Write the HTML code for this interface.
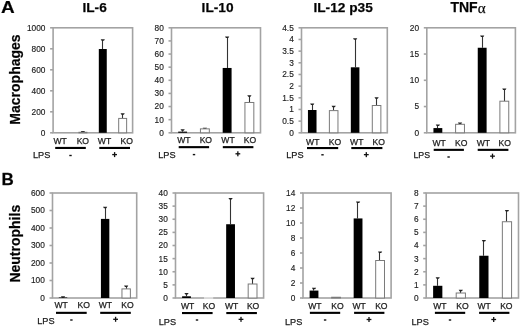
<!DOCTYPE html>
<html><head><meta charset="utf-8"><style>
html,body{margin:0;padding:0;background:#fff;width:520px;height:326px;overflow:hidden}
svg{display:block;font-family:"Liberation Sans", sans-serif;will-change:transform}
text{stroke:#222;stroke-width:0.25px;stroke-linejoin:round}
</style></head><body>
<svg width="520" height="326" viewBox="0 0 520 326">
<rect width="520" height="326" fill="#fff"/>
<rect x="53.10" y="27.80" width="79.50" height="105.00" fill="none" stroke="#a3a3a3" stroke-width="1.6"/>
<line x1="50.10" y1="132.80" x2="53.10" y2="132.80" stroke="#a3a3a3" stroke-width="1.6"/>
<text x="45.40" y="135.70" text-anchor="end" font-size="8.3" fill="#1a1a1a" style="stroke-width:0.15px">0</text>
<line x1="50.10" y1="111.80" x2="53.10" y2="111.80" stroke="#a3a3a3" stroke-width="1.6"/>
<text x="45.40" y="114.70" text-anchor="end" font-size="8.3" fill="#1a1a1a" style="stroke-width:0.15px">200</text>
<line x1="50.10" y1="90.80" x2="53.10" y2="90.80" stroke="#a3a3a3" stroke-width="1.6"/>
<text x="45.40" y="93.70" text-anchor="end" font-size="8.3" fill="#1a1a1a" style="stroke-width:0.15px">400</text>
<line x1="50.10" y1="69.80" x2="53.10" y2="69.80" stroke="#a3a3a3" stroke-width="1.6"/>
<text x="45.40" y="72.70" text-anchor="end" font-size="8.3" fill="#1a1a1a" style="stroke-width:0.15px">600</text>
<line x1="50.10" y1="48.80" x2="53.10" y2="48.80" stroke="#a3a3a3" stroke-width="1.6"/>
<text x="45.40" y="51.70" text-anchor="end" font-size="8.3" fill="#1a1a1a" style="stroke-width:0.15px">800</text>
<line x1="50.10" y1="27.80" x2="53.10" y2="27.80" stroke="#a3a3a3" stroke-width="1.6"/>
<text x="45.40" y="30.70" text-anchor="end" font-size="8.3" fill="#1a1a1a" style="stroke-width:0.15px">1000</text>
<rect x="59.06" y="132.80" width="7.95" height="0.00" fill="#000"/>
<line x1="82.50" y1="131.75" x2="82.50" y2="132.28" stroke="#333" stroke-width="1.1"/>
<path d="M80.81 131.05H85.01L84.11 132.55H81.71Z" fill="#222"/>
<rect x="78.94" y="132.28" width="7.95" height="0.53" fill="#fff" stroke="#7a7a7a" stroke-width="1"/>
<line x1="102.50" y1="39.98" x2="102.50" y2="49.01" stroke="#333" stroke-width="1.1"/>
<path d="M100.69 39.28H104.89L103.99 40.78H101.59Z" fill="#222"/>
<rect x="98.81" y="49.01" width="7.95" height="83.79" fill="#000"/>
<line x1="122.50" y1="114.01" x2="122.50" y2="118.42" stroke="#333" stroke-width="1.1"/>
<path d="M120.56 113.31H124.76L123.86 114.81H121.46Z" fill="#222"/>
<rect x="118.69" y="118.42" width="7.95" height="14.39" fill="#fff" stroke="#7a7a7a" stroke-width="1"/>
<rect x="171.50" y="27.80" width="89.00" height="105.00" fill="none" stroke="#a3a3a3" stroke-width="1.6"/>
<line x1="168.50" y1="132.80" x2="171.50" y2="132.80" stroke="#a3a3a3" stroke-width="1.6"/>
<text x="163.80" y="135.70" text-anchor="end" font-size="8.3" fill="#1a1a1a" style="stroke-width:0.15px">0</text>
<line x1="168.50" y1="119.68" x2="171.50" y2="119.68" stroke="#a3a3a3" stroke-width="1.6"/>
<text x="163.80" y="122.58" text-anchor="end" font-size="8.3" fill="#1a1a1a" style="stroke-width:0.15px">10</text>
<line x1="168.50" y1="106.55" x2="171.50" y2="106.55" stroke="#a3a3a3" stroke-width="1.6"/>
<text x="163.80" y="109.45" text-anchor="end" font-size="8.3" fill="#1a1a1a" style="stroke-width:0.15px">20</text>
<line x1="168.50" y1="93.43" x2="171.50" y2="93.43" stroke="#a3a3a3" stroke-width="1.6"/>
<text x="163.80" y="96.33" text-anchor="end" font-size="8.3" fill="#1a1a1a" style="stroke-width:0.15px">30</text>
<line x1="168.50" y1="80.30" x2="171.50" y2="80.30" stroke="#a3a3a3" stroke-width="1.6"/>
<text x="163.80" y="83.20" text-anchor="end" font-size="8.3" fill="#1a1a1a" style="stroke-width:0.15px">40</text>
<line x1="168.50" y1="67.17" x2="171.50" y2="67.17" stroke="#a3a3a3" stroke-width="1.6"/>
<text x="163.80" y="70.08" text-anchor="end" font-size="8.3" fill="#1a1a1a" style="stroke-width:0.15px">50</text>
<line x1="168.50" y1="54.05" x2="171.50" y2="54.05" stroke="#a3a3a3" stroke-width="1.6"/>
<text x="163.80" y="56.95" text-anchor="end" font-size="8.3" fill="#1a1a1a" style="stroke-width:0.15px">60</text>
<line x1="168.50" y1="40.92" x2="171.50" y2="40.92" stroke="#a3a3a3" stroke-width="1.6"/>
<text x="163.80" y="43.82" text-anchor="end" font-size="8.3" fill="#1a1a1a" style="stroke-width:0.15px">70</text>
<line x1="168.50" y1="27.80" x2="171.50" y2="27.80" stroke="#a3a3a3" stroke-width="1.6"/>
<text x="163.80" y="30.70" text-anchor="end" font-size="8.3" fill="#1a1a1a" style="stroke-width:0.15px">80</text>
<line x1="182.50" y1="129.91" x2="182.50" y2="131.62" stroke="#333" stroke-width="1.1"/>
<path d="M180.53 129.21H184.72L183.82 130.71H181.43Z" fill="#222"/>
<rect x="178.18" y="131.62" width="8.90" height="1.18" fill="#000"/>
<line x1="204.50" y1="128.47" x2="204.50" y2="128.86" stroke="#333" stroke-width="1.1"/>
<path d="M202.78 127.77H206.97L206.07 129.27H203.68Z" fill="#222"/>
<rect x="200.43" y="128.86" width="8.90" height="3.94" fill="#fff" stroke="#7a7a7a" stroke-width="1"/>
<line x1="227.50" y1="37.25" x2="227.50" y2="67.96" stroke="#333" stroke-width="1.1"/>
<path d="M225.03 36.55H229.22L228.32 38.05H225.93Z" fill="#222"/>
<rect x="222.68" y="67.96" width="8.90" height="64.84" fill="#000"/>
<line x1="249.50" y1="95.92" x2="249.50" y2="102.48" stroke="#333" stroke-width="1.1"/>
<path d="M247.28 95.22H251.47L250.57 96.72H248.18Z" fill="#222"/>
<rect x="244.93" y="102.48" width="8.90" height="30.32" fill="#fff" stroke="#7a7a7a" stroke-width="1"/>
<rect x="301.50" y="27.80" width="85.80" height="105.00" fill="none" stroke="#a3a3a3" stroke-width="1.6"/>
<line x1="298.50" y1="132.80" x2="301.50" y2="132.80" stroke="#a3a3a3" stroke-width="1.6"/>
<text x="293.80" y="135.70" text-anchor="end" font-size="8.3" fill="#1a1a1a" style="stroke-width:0.15px">0</text>
<line x1="298.50" y1="121.13" x2="301.50" y2="121.13" stroke="#a3a3a3" stroke-width="1.6"/>
<text x="293.80" y="124.03" text-anchor="end" font-size="8.3" fill="#1a1a1a" style="stroke-width:0.15px">0.5</text>
<line x1="298.50" y1="109.47" x2="301.50" y2="109.47" stroke="#a3a3a3" stroke-width="1.6"/>
<text x="293.80" y="112.37" text-anchor="end" font-size="8.3" fill="#1a1a1a" style="stroke-width:0.15px">1</text>
<line x1="298.50" y1="97.80" x2="301.50" y2="97.80" stroke="#a3a3a3" stroke-width="1.6"/>
<text x="293.80" y="100.70" text-anchor="end" font-size="8.3" fill="#1a1a1a" style="stroke-width:0.15px">1.5</text>
<line x1="298.50" y1="86.13" x2="301.50" y2="86.13" stroke="#a3a3a3" stroke-width="1.6"/>
<text x="293.80" y="89.03" text-anchor="end" font-size="8.3" fill="#1a1a1a" style="stroke-width:0.15px">2</text>
<line x1="298.50" y1="74.47" x2="301.50" y2="74.47" stroke="#a3a3a3" stroke-width="1.6"/>
<text x="293.80" y="77.37" text-anchor="end" font-size="8.3" fill="#1a1a1a" style="stroke-width:0.15px">2.5</text>
<line x1="298.50" y1="62.80" x2="301.50" y2="62.80" stroke="#a3a3a3" stroke-width="1.6"/>
<text x="293.80" y="65.70" text-anchor="end" font-size="8.3" fill="#1a1a1a" style="stroke-width:0.15px">3</text>
<line x1="298.50" y1="51.13" x2="301.50" y2="51.13" stroke="#a3a3a3" stroke-width="1.6"/>
<text x="293.80" y="54.03" text-anchor="end" font-size="8.3" fill="#1a1a1a" style="stroke-width:0.15px">3.5</text>
<line x1="298.50" y1="39.47" x2="301.50" y2="39.47" stroke="#a3a3a3" stroke-width="1.6"/>
<text x="293.80" y="42.37" text-anchor="end" font-size="8.3" fill="#1a1a1a" style="stroke-width:0.15px">4</text>
<line x1="298.50" y1="27.80" x2="301.50" y2="27.80" stroke="#a3a3a3" stroke-width="1.6"/>
<text x="293.80" y="30.70" text-anchor="end" font-size="8.3" fill="#1a1a1a" style="stroke-width:0.15px">4.5</text>
<line x1="312.50" y1="104.17" x2="312.50" y2="110.00" stroke="#333" stroke-width="1.1"/>
<path d="M310.12 103.47H314.33L313.43 104.97H311.03Z" fill="#222"/>
<rect x="307.94" y="110.00" width="8.58" height="22.80" fill="#000"/>
<line x1="333.50" y1="106.41" x2="333.50" y2="110.61" stroke="#333" stroke-width="1.1"/>
<path d="M331.57 105.71H335.78L334.88 107.21H332.48Z" fill="#222"/>
<rect x="329.38" y="110.61" width="8.58" height="22.19" fill="#fff" stroke="#7a7a7a" stroke-width="1"/>
<line x1="355.50" y1="39.07" x2="355.50" y2="67.30" stroke="#333" stroke-width="1.1"/>
<path d="M353.02 38.37H357.23L356.32 39.87H353.93Z" fill="#222"/>
<rect x="350.83" y="67.30" width="8.58" height="65.50" fill="#000"/>
<line x1="376.50" y1="98.03" x2="376.50" y2="105.50" stroke="#333" stroke-width="1.1"/>
<path d="M374.48 97.33H378.68L377.78 98.83H375.38Z" fill="#222"/>
<rect x="372.29" y="105.50" width="8.58" height="27.30" fill="#fff" stroke="#7a7a7a" stroke-width="1"/>
<rect x="426.80" y="27.80" width="88.60" height="105.00" fill="none" stroke="#a3a3a3" stroke-width="1.6"/>
<line x1="423.80" y1="132.80" x2="426.80" y2="132.80" stroke="#a3a3a3" stroke-width="1.6"/>
<text x="419.10" y="135.70" text-anchor="end" font-size="8.3" fill="#1a1a1a" style="stroke-width:0.15px">0</text>
<line x1="423.80" y1="106.55" x2="426.80" y2="106.55" stroke="#a3a3a3" stroke-width="1.6"/>
<text x="419.10" y="109.45" text-anchor="end" font-size="8.3" fill="#1a1a1a" style="stroke-width:0.15px">5</text>
<line x1="423.80" y1="80.30" x2="426.80" y2="80.30" stroke="#a3a3a3" stroke-width="1.6"/>
<text x="419.10" y="83.20" text-anchor="end" font-size="8.3" fill="#1a1a1a" style="stroke-width:0.15px">10</text>
<line x1="423.80" y1="54.05" x2="426.80" y2="54.05" stroke="#a3a3a3" stroke-width="1.6"/>
<text x="419.10" y="56.95" text-anchor="end" font-size="8.3" fill="#1a1a1a" style="stroke-width:0.15px">15</text>
<line x1="423.80" y1="27.80" x2="426.80" y2="27.80" stroke="#a3a3a3" stroke-width="1.6"/>
<text x="419.10" y="30.70" text-anchor="end" font-size="8.3" fill="#1a1a1a" style="stroke-width:0.15px">20</text>
<line x1="437.50" y1="125.19" x2="437.50" y2="128.08" stroke="#333" stroke-width="1.1"/>
<path d="M435.77 124.49H439.98L439.07 125.99H436.68Z" fill="#222"/>
<rect x="433.44" y="128.08" width="8.86" height="4.72" fill="#000"/>
<line x1="459.50" y1="123.25" x2="459.50" y2="124.30" stroke="#333" stroke-width="1.1"/>
<path d="M457.92 122.55H462.12L461.22 124.05H458.82Z" fill="#222"/>
<rect x="455.59" y="124.30" width="8.86" height="8.50" fill="#fff" stroke="#7a7a7a" stroke-width="1"/>
<line x1="482.50" y1="36.20" x2="482.50" y2="47.75" stroke="#333" stroke-width="1.1"/>
<path d="M480.07 35.50H484.28L483.38 37.00H480.98Z" fill="#222"/>
<rect x="477.75" y="47.75" width="8.86" height="85.05" fill="#000"/>
<line x1="504.50" y1="89.23" x2="504.50" y2="101.20" stroke="#333" stroke-width="1.1"/>
<path d="M502.22 88.53H506.43L505.52 90.03H503.12Z" fill="#222"/>
<rect x="499.89" y="101.20" width="8.86" height="31.61" fill="#fff" stroke="#7a7a7a" stroke-width="1"/>
<rect x="52.50" y="193.00" width="84.20" height="105.00" fill="none" stroke="#a3a3a3" stroke-width="1.6"/>
<line x1="49.50" y1="298.00" x2="52.50" y2="298.00" stroke="#a3a3a3" stroke-width="1.6"/>
<text x="44.80" y="300.90" text-anchor="end" font-size="8.3" fill="#1a1a1a" style="stroke-width:0.15px">0</text>
<line x1="49.50" y1="280.50" x2="52.50" y2="280.50" stroke="#a3a3a3" stroke-width="1.6"/>
<text x="44.80" y="283.40" text-anchor="end" font-size="8.3" fill="#1a1a1a" style="stroke-width:0.15px">100</text>
<line x1="49.50" y1="263.00" x2="52.50" y2="263.00" stroke="#a3a3a3" stroke-width="1.6"/>
<text x="44.80" y="265.90" text-anchor="end" font-size="8.3" fill="#1a1a1a" style="stroke-width:0.15px">200</text>
<line x1="49.50" y1="245.50" x2="52.50" y2="245.50" stroke="#a3a3a3" stroke-width="1.6"/>
<text x="44.80" y="248.40" text-anchor="end" font-size="8.3" fill="#1a1a1a" style="stroke-width:0.15px">300</text>
<line x1="49.50" y1="228.00" x2="52.50" y2="228.00" stroke="#a3a3a3" stroke-width="1.6"/>
<text x="44.80" y="230.90" text-anchor="end" font-size="8.3" fill="#1a1a1a" style="stroke-width:0.15px">400</text>
<line x1="49.50" y1="210.50" x2="52.50" y2="210.50" stroke="#a3a3a3" stroke-width="1.6"/>
<text x="44.80" y="213.40" text-anchor="end" font-size="8.3" fill="#1a1a1a" style="stroke-width:0.15px">500</text>
<line x1="49.50" y1="193.00" x2="52.50" y2="193.00" stroke="#a3a3a3" stroke-width="1.6"/>
<text x="44.80" y="195.90" text-anchor="end" font-size="8.3" fill="#1a1a1a" style="stroke-width:0.15px">600</text>
<line x1="62.50" y1="296.95" x2="62.50" y2="297.48" stroke="#333" stroke-width="1.1"/>
<path d="M60.92 296.25H65.12L64.22 297.75H61.82Z" fill="#222"/>
<rect x="58.81" y="297.48" width="8.42" height="0.52" fill="#000"/>
<line x1="105.50" y1="207.52" x2="105.50" y2="218.90" stroke="#333" stroke-width="1.1"/>
<path d="M103.03 206.82H107.22L106.33 208.32H103.92Z" fill="#222"/>
<rect x="100.92" y="218.90" width="8.42" height="79.10" fill="#000"/>
<line x1="126.50" y1="286.10" x2="126.50" y2="288.90" stroke="#333" stroke-width="1.1"/>
<path d="M124.07 285.40H128.27L127.37 286.90H124.97Z" fill="#222"/>
<rect x="121.96" y="288.90" width="8.42" height="9.10" fill="#fff" stroke="#7a7a7a" stroke-width="1"/>
<rect x="175.50" y="193.00" width="88.10" height="105.00" fill="none" stroke="#a3a3a3" stroke-width="1.6"/>
<line x1="172.50" y1="298.00" x2="175.50" y2="298.00" stroke="#a3a3a3" stroke-width="1.6"/>
<text x="167.80" y="300.90" text-anchor="end" font-size="8.3" fill="#1a1a1a" style="stroke-width:0.15px">0</text>
<line x1="172.50" y1="284.88" x2="175.50" y2="284.88" stroke="#a3a3a3" stroke-width="1.6"/>
<text x="167.80" y="287.77" text-anchor="end" font-size="8.3" fill="#1a1a1a" style="stroke-width:0.15px">5</text>
<line x1="172.50" y1="271.75" x2="175.50" y2="271.75" stroke="#a3a3a3" stroke-width="1.6"/>
<text x="167.80" y="274.65" text-anchor="end" font-size="8.3" fill="#1a1a1a" style="stroke-width:0.15px">10</text>
<line x1="172.50" y1="258.62" x2="175.50" y2="258.62" stroke="#a3a3a3" stroke-width="1.6"/>
<text x="167.80" y="261.52" text-anchor="end" font-size="8.3" fill="#1a1a1a" style="stroke-width:0.15px">15</text>
<line x1="172.50" y1="245.50" x2="175.50" y2="245.50" stroke="#a3a3a3" stroke-width="1.6"/>
<text x="167.80" y="248.40" text-anchor="end" font-size="8.3" fill="#1a1a1a" style="stroke-width:0.15px">20</text>
<line x1="172.50" y1="232.38" x2="175.50" y2="232.38" stroke="#a3a3a3" stroke-width="1.6"/>
<text x="167.80" y="235.28" text-anchor="end" font-size="8.3" fill="#1a1a1a" style="stroke-width:0.15px">25</text>
<line x1="172.50" y1="219.25" x2="175.50" y2="219.25" stroke="#a3a3a3" stroke-width="1.6"/>
<text x="167.80" y="222.15" text-anchor="end" font-size="8.3" fill="#1a1a1a" style="stroke-width:0.15px">30</text>
<line x1="172.50" y1="206.12" x2="175.50" y2="206.12" stroke="#a3a3a3" stroke-width="1.6"/>
<text x="167.80" y="209.03" text-anchor="end" font-size="8.3" fill="#1a1a1a" style="stroke-width:0.15px">35</text>
<line x1="172.50" y1="193.00" x2="175.50" y2="193.00" stroke="#a3a3a3" stroke-width="1.6"/>
<text x="167.80" y="195.90" text-anchor="end" font-size="8.3" fill="#1a1a1a" style="stroke-width:0.15px">40</text>
<line x1="186.50" y1="293.67" x2="186.50" y2="296.29" stroke="#333" stroke-width="1.1"/>
<path d="M184.41 292.97H188.61L187.71 294.47H185.31Z" fill="#222"/>
<rect x="182.11" y="296.29" width="8.81" height="1.71" fill="#000"/>
<line x1="230.50" y1="198.78" x2="230.50" y2="224.24" stroke="#333" stroke-width="1.1"/>
<path d="M228.46 198.08H232.66L231.76 199.58H229.36Z" fill="#222"/>
<rect x="226.16" y="224.24" width="8.81" height="73.76" fill="#000"/>
<line x1="252.50" y1="278.50" x2="252.50" y2="284.01" stroke="#333" stroke-width="1.1"/>
<path d="M250.49 277.80H254.69L253.79 279.30H251.39Z" fill="#222"/>
<rect x="248.18" y="284.01" width="8.81" height="13.99" fill="#fff" stroke="#7a7a7a" stroke-width="1"/>
<rect x="303.00" y="193.00" width="88.10" height="105.00" fill="none" stroke="#a3a3a3" stroke-width="1.6"/>
<line x1="300.00" y1="298.00" x2="303.00" y2="298.00" stroke="#a3a3a3" stroke-width="1.6"/>
<text x="295.30" y="300.90" text-anchor="end" font-size="8.3" fill="#1a1a1a" style="stroke-width:0.15px">0</text>
<line x1="300.00" y1="283.00" x2="303.00" y2="283.00" stroke="#a3a3a3" stroke-width="1.6"/>
<text x="295.30" y="285.90" text-anchor="end" font-size="8.3" fill="#1a1a1a" style="stroke-width:0.15px">2</text>
<line x1="300.00" y1="268.00" x2="303.00" y2="268.00" stroke="#a3a3a3" stroke-width="1.6"/>
<text x="295.30" y="270.90" text-anchor="end" font-size="8.3" fill="#1a1a1a" style="stroke-width:0.15px">4</text>
<line x1="300.00" y1="253.00" x2="303.00" y2="253.00" stroke="#a3a3a3" stroke-width="1.6"/>
<text x="295.30" y="255.90" text-anchor="end" font-size="8.3" fill="#1a1a1a" style="stroke-width:0.15px">6</text>
<line x1="300.00" y1="238.00" x2="303.00" y2="238.00" stroke="#a3a3a3" stroke-width="1.6"/>
<text x="295.30" y="240.90" text-anchor="end" font-size="8.3" fill="#1a1a1a" style="stroke-width:0.15px">8</text>
<line x1="300.00" y1="223.00" x2="303.00" y2="223.00" stroke="#a3a3a3" stroke-width="1.6"/>
<text x="295.30" y="225.90" text-anchor="end" font-size="8.3" fill="#1a1a1a" style="stroke-width:0.15px">10</text>
<line x1="300.00" y1="208.00" x2="303.00" y2="208.00" stroke="#a3a3a3" stroke-width="1.6"/>
<text x="295.30" y="210.90" text-anchor="end" font-size="8.3" fill="#1a1a1a" style="stroke-width:0.15px">12</text>
<line x1="300.00" y1="193.00" x2="303.00" y2="193.00" stroke="#a3a3a3" stroke-width="1.6"/>
<text x="295.30" y="195.90" text-anchor="end" font-size="8.3" fill="#1a1a1a" style="stroke-width:0.15px">14</text>
<line x1="313.50" y1="288.48" x2="313.50" y2="290.57" stroke="#333" stroke-width="1.1"/>
<path d="M311.91 287.78H316.11L315.21 289.28H312.81Z" fill="#222"/>
<rect x="309.61" y="290.57" width="8.81" height="7.43" fill="#000"/>
<rect x="331.63" y="297.25" width="8.81" height="0.75" fill="#fff" stroke="#7a7a7a" stroke-width="1"/>
<line x1="357.50" y1="202.30" x2="357.50" y2="218.43" stroke="#333" stroke-width="1.1"/>
<path d="M355.96 201.60H360.16L359.26 203.10H356.86Z" fill="#222"/>
<rect x="353.66" y="218.43" width="8.81" height="79.57" fill="#000"/>
<line x1="379.50" y1="252.25" x2="379.50" y2="260.50" stroke="#333" stroke-width="1.1"/>
<path d="M377.99 251.55H382.19L381.29 253.05H378.89Z" fill="#222"/>
<rect x="375.68" y="260.50" width="8.81" height="37.50" fill="#fff" stroke="#7a7a7a" stroke-width="1"/>
<rect x="426.20" y="193.00" width="92.30" height="105.00" fill="none" stroke="#a3a3a3" stroke-width="1.6"/>
<line x1="423.20" y1="298.00" x2="426.20" y2="298.00" stroke="#a3a3a3" stroke-width="1.6"/>
<text x="418.50" y="300.90" text-anchor="end" font-size="8.3" fill="#1a1a1a" style="stroke-width:0.15px">0</text>
<line x1="423.20" y1="284.88" x2="426.20" y2="284.88" stroke="#a3a3a3" stroke-width="1.6"/>
<text x="418.50" y="287.77" text-anchor="end" font-size="8.3" fill="#1a1a1a" style="stroke-width:0.15px">1</text>
<line x1="423.20" y1="271.75" x2="426.20" y2="271.75" stroke="#a3a3a3" stroke-width="1.6"/>
<text x="418.50" y="274.65" text-anchor="end" font-size="8.3" fill="#1a1a1a" style="stroke-width:0.15px">2</text>
<line x1="423.20" y1="258.62" x2="426.20" y2="258.62" stroke="#a3a3a3" stroke-width="1.6"/>
<text x="418.50" y="261.52" text-anchor="end" font-size="8.3" fill="#1a1a1a" style="stroke-width:0.15px">3</text>
<line x1="423.20" y1="245.50" x2="426.20" y2="245.50" stroke="#a3a3a3" stroke-width="1.6"/>
<text x="418.50" y="248.40" text-anchor="end" font-size="8.3" fill="#1a1a1a" style="stroke-width:0.15px">4</text>
<line x1="423.20" y1="232.38" x2="426.20" y2="232.38" stroke="#a3a3a3" stroke-width="1.6"/>
<text x="418.50" y="235.28" text-anchor="end" font-size="8.3" fill="#1a1a1a" style="stroke-width:0.15px">5</text>
<line x1="423.20" y1="219.25" x2="426.20" y2="219.25" stroke="#a3a3a3" stroke-width="1.6"/>
<text x="418.50" y="222.15" text-anchor="end" font-size="8.3" fill="#1a1a1a" style="stroke-width:0.15px">6</text>
<line x1="423.20" y1="206.12" x2="426.20" y2="206.12" stroke="#a3a3a3" stroke-width="1.6"/>
<text x="418.50" y="209.03" text-anchor="end" font-size="8.3" fill="#1a1a1a" style="stroke-width:0.15px">7</text>
<line x1="423.20" y1="193.00" x2="426.20" y2="193.00" stroke="#a3a3a3" stroke-width="1.6"/>
<text x="418.50" y="195.90" text-anchor="end" font-size="8.3" fill="#1a1a1a" style="stroke-width:0.15px">8</text>
<line x1="437.50" y1="278.05" x2="437.50" y2="285.79" stroke="#333" stroke-width="1.1"/>
<path d="M435.64 277.35H439.84L438.94 278.85H436.54Z" fill="#222"/>
<rect x="433.12" y="285.79" width="9.23" height="12.21" fill="#000"/>
<line x1="460.50" y1="290.52" x2="460.50" y2="293.01" stroke="#333" stroke-width="1.1"/>
<path d="M458.71 289.82H462.91L462.01 291.32H459.61Z" fill="#222"/>
<rect x="456.20" y="293.01" width="9.23" height="4.99" fill="#fff" stroke="#7a7a7a" stroke-width="1"/>
<line x1="483.50" y1="240.64" x2="483.50" y2="255.74" stroke="#333" stroke-width="1.1"/>
<path d="M481.79 239.94H485.99L485.09 241.44H482.69Z" fill="#222"/>
<rect x="479.27" y="255.74" width="9.23" height="42.26" fill="#000"/>
<line x1="506.50" y1="210.59" x2="506.50" y2="221.74" stroke="#333" stroke-width="1.1"/>
<path d="M504.86 209.89H509.06L508.16 211.39H505.76Z" fill="#222"/>
<rect x="502.35" y="221.74" width="9.23" height="76.26" fill="#fff" stroke="#7a7a7a" stroke-width="1"/>
<text x="60.10" y="144.20" text-anchor="middle" font-size="8.6" fill="#1a1a1a">WT</text>
<text x="82.85" y="144.20" text-anchor="middle" font-size="8.6" fill="#1a1a1a">KO</text>
<text x="104.50" y="144.20" text-anchor="middle" font-size="8.6" fill="#1a1a1a">WT</text>
<text x="126.65" y="144.20" text-anchor="middle" font-size="8.6" fill="#1a1a1a">KO</text>
<rect x="55.20" y="146.90" width="30.60" height="2.1" fill="#000"/>
<rect x="99.30" y="146.90" width="30.70" height="2.1" fill="#000"/>
<text x="33.00" y="157.80" font-size="9.2" fill="#1a1a1a">LPS</text>
<rect x="69.30" y="154.80" width="2.4" height="1.4" fill="#111"/>
<rect x="112.20" y="153.95" width="4.8" height="1.3" fill="#111"/>
<rect x="113.95" y="152.10" width="1.3" height="5.0" fill="#111"/>
<text x="183.85" y="143.40" text-anchor="middle" font-size="8.6" fill="#1a1a1a">WT</text>
<text x="205.85" y="143.40" text-anchor="middle" font-size="8.6" fill="#1a1a1a">KO</text>
<text x="228.00" y="143.40" text-anchor="middle" font-size="8.6" fill="#1a1a1a">WT</text>
<text x="250.00" y="143.40" text-anchor="middle" font-size="8.6" fill="#1a1a1a">KO</text>
<rect x="178.70" y="146.10" width="30.40" height="2.1" fill="#000"/>
<rect x="222.80" y="146.10" width="30.60" height="2.1" fill="#000"/>
<text x="158.20" y="157.80" font-size="9.2" fill="#1a1a1a">LPS</text>
<rect x="192.80" y="153.90" width="2.4" height="1.4" fill="#111"/>
<rect x="235.45" y="153.15" width="4.8" height="1.3" fill="#111"/>
<rect x="237.20" y="151.30" width="1.3" height="5.0" fill="#111"/>
<text x="312.75" y="144.60" text-anchor="middle" font-size="8.6" fill="#1a1a1a">WT</text>
<text x="335.00" y="144.60" text-anchor="middle" font-size="8.6" fill="#1a1a1a">KO</text>
<text x="356.75" y="144.60" text-anchor="middle" font-size="8.6" fill="#1a1a1a">WT</text>
<text x="378.75" y="144.60" text-anchor="middle" font-size="8.6" fill="#1a1a1a">KO</text>
<rect x="307.00" y="147.00" width="31.20" height="2.1" fill="#000"/>
<rect x="351.30" y="147.00" width="31.10" height="2.1" fill="#000"/>
<text x="286.20" y="157.70" font-size="9.2" fill="#1a1a1a">LPS</text>
<rect x="321.30" y="154.10" width="2.4" height="1.4" fill="#111"/>
<rect x="363.90" y="154.00" width="4.8" height="1.3" fill="#111"/>
<rect x="365.65" y="152.15" width="1.3" height="5.0" fill="#111"/>
<text x="439.15" y="145.80" text-anchor="middle" font-size="8.6" fill="#1a1a1a">WT</text>
<text x="461.15" y="145.80" text-anchor="middle" font-size="8.6" fill="#1a1a1a">KO</text>
<text x="483.45" y="145.80" text-anchor="middle" font-size="8.6" fill="#1a1a1a">WT</text>
<text x="504.75" y="145.80" text-anchor="middle" font-size="8.6" fill="#1a1a1a">KO</text>
<rect x="433.70" y="148.80" width="30.20" height="2.1" fill="#000"/>
<rect x="477.70" y="148.80" width="30.70" height="2.1" fill="#000"/>
<text x="413.40" y="157.80" font-size="8.8" fill="#1a1a1a">LPS</text>
<rect x="447.40" y="156.30" width="2.4" height="1.4" fill="#111"/>
<rect x="490.10" y="155.50" width="4.8" height="1.3" fill="#111"/>
<rect x="491.85" y="153.65" width="1.3" height="5.0" fill="#111"/>
<text x="61.20" y="308.40" text-anchor="middle" font-size="8.6" fill="#1a1a1a">WT</text>
<text x="83.75" y="308.40" text-anchor="middle" font-size="8.6" fill="#1a1a1a">KO</text>
<text x="105.40" y="308.40" text-anchor="middle" font-size="8.6" fill="#1a1a1a">WT</text>
<text x="127.45" y="308.40" text-anchor="middle" font-size="8.6" fill="#1a1a1a">KO</text>
<rect x="56.00" y="311.80" width="30.70" height="2.1" fill="#000"/>
<rect x="100.20" y="311.80" width="30.60" height="2.1" fill="#000"/>
<text x="37.20" y="324.30" font-size="9.2" fill="#1a1a1a">LPS</text>
<rect x="70.20" y="319.30" width="2.4" height="1.4" fill="#111"/>
<rect x="113.20" y="318.65" width="4.8" height="1.3" fill="#111"/>
<rect x="114.95" y="316.80" width="1.3" height="5.0" fill="#111"/>
<text x="187.60" y="309.00" text-anchor="middle" font-size="8.6" fill="#1a1a1a">WT</text>
<text x="209.00" y="309.00" text-anchor="middle" font-size="8.6" fill="#1a1a1a">KO</text>
<text x="231.60" y="309.00" text-anchor="middle" font-size="8.6" fill="#1a1a1a">WT</text>
<text x="253.10" y="309.00" text-anchor="middle" font-size="8.6" fill="#1a1a1a">KO</text>
<rect x="182.00" y="312.00" width="30.60" height="2.1" fill="#000"/>
<rect x="226.30" y="312.00" width="30.60" height="2.1" fill="#000"/>
<text x="158.70" y="324.80" font-size="9.2" fill="#1a1a1a">LPS</text>
<rect x="195.80" y="319.30" width="2.4" height="1.4" fill="#111"/>
<rect x="238.60" y="318.70" width="4.8" height="1.3" fill="#111"/>
<rect x="240.35" y="316.85" width="1.3" height="5.0" fill="#111"/>
<text x="314.95" y="309.00" text-anchor="middle" font-size="8.6" fill="#1a1a1a">WT</text>
<text x="337.55" y="309.00" text-anchor="middle" font-size="8.6" fill="#1a1a1a">KO</text>
<text x="359.20" y="309.00" text-anchor="middle" font-size="8.6" fill="#1a1a1a">WT</text>
<text x="381.35" y="309.00" text-anchor="middle" font-size="8.6" fill="#1a1a1a">KO</text>
<rect x="309.90" y="311.80" width="30.30" height="2.1" fill="#000"/>
<rect x="354.10" y="311.80" width="30.30" height="2.1" fill="#000"/>
<text x="284.90" y="324.80" font-size="9.2" fill="#1a1a1a">LPS</text>
<rect x="323.90" y="319.30" width="2.4" height="1.4" fill="#111"/>
<rect x="366.60" y="318.85" width="4.8" height="1.3" fill="#111"/>
<rect x="368.35" y="317.00" width="1.3" height="5.0" fill="#111"/>
<text x="439.95" y="309.00" text-anchor="middle" font-size="8.6" fill="#1a1a1a">WT</text>
<text x="462.55" y="309.00" text-anchor="middle" font-size="8.6" fill="#1a1a1a">KO</text>
<text x="484.20" y="309.00" text-anchor="middle" font-size="8.6" fill="#1a1a1a">WT</text>
<text x="506.35" y="309.00" text-anchor="middle" font-size="8.6" fill="#1a1a1a">KO</text>
<rect x="434.90" y="311.80" width="30.30" height="2.1" fill="#000"/>
<rect x="479.10" y="311.80" width="30.30" height="2.1" fill="#000"/>
<text x="411.40" y="324.80" font-size="9.2" fill="#1a1a1a">LPS</text>
<rect x="448.80" y="319.30" width="2.4" height="1.4" fill="#111"/>
<rect x="491.30" y="318.85" width="4.8" height="1.3" fill="#111"/>
<rect x="493.05" y="317.00" width="1.3" height="5.0" fill="#111"/>
<rect x="204.0" y="296.9" width="9.2" height="2.0" fill="#fff" fill-opacity="0.55"/>
<text x="94.6" y="12.2" text-anchor="middle" font-size="13.7" font-weight="bold">IL-6</text>
<text x="217.6" y="12.2" text-anchor="middle" font-size="13.7" font-weight="bold">IL-10</text>
<text x="343.1" y="12.2" text-anchor="middle" font-size="13.7" font-weight="bold">IL-12 p35</text>
<text x="468" y="12.1" text-anchor="middle" font-size="14" font-weight="bold">TNF<tspan font-family="Liberation Serif" font-weight="normal" font-size="15" dy="0.4">&#945;</tspan></text>
<text transform="translate(0.9 13) scale(1.15 1)" font-size="16.5" font-weight="bold">A</text>
<text transform="translate(1.6 185) scale(1.03 1)" font-size="16.5" font-weight="bold">B</text>
<text transform="translate(20.3 79.5) rotate(-90)" text-anchor="middle" font-size="14" font-weight="bold">Macrophages</text>
<text transform="translate(20.3 243.7) rotate(-90)" text-anchor="middle" font-size="14" font-weight="bold">Neutrophils</text>
</svg>
</body></html>
